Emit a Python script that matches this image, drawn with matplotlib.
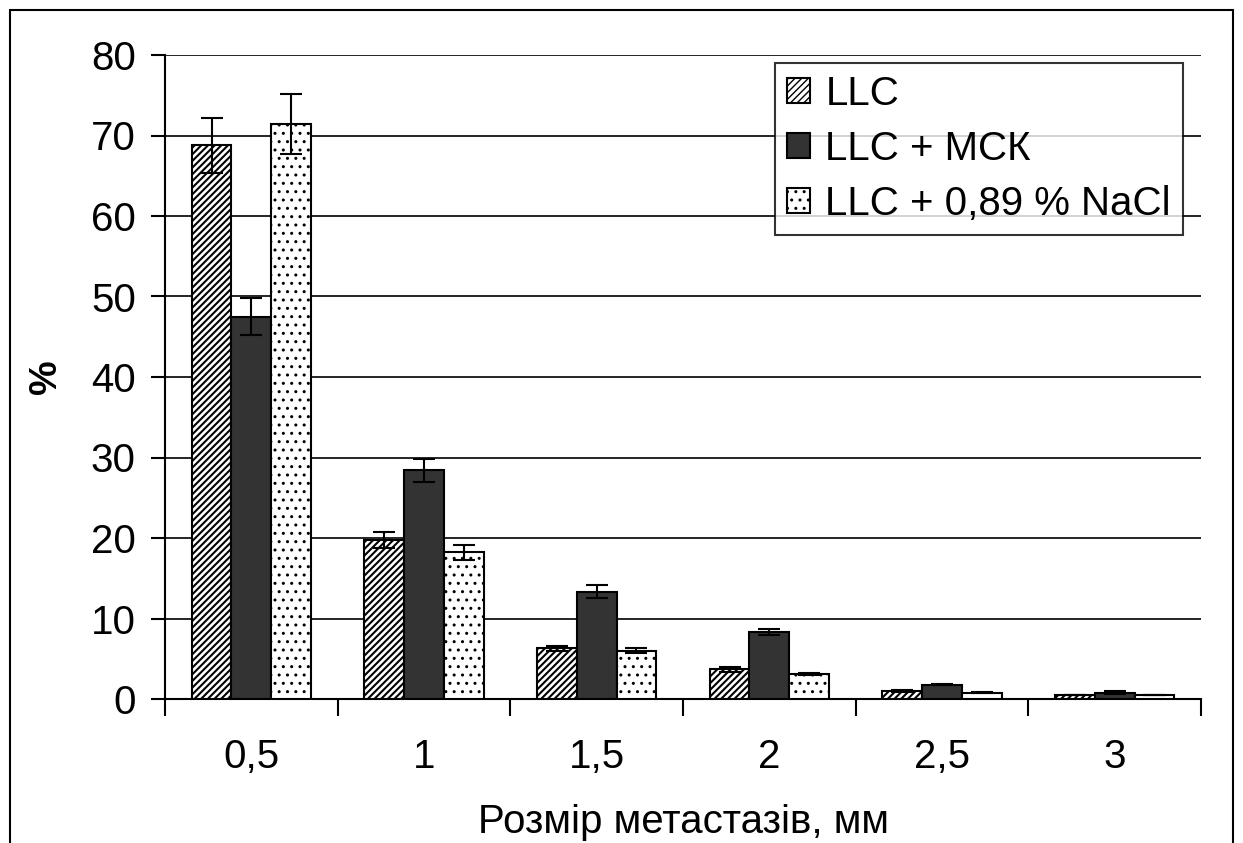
import matplotlib
matplotlib.use("Agg")
import matplotlib.pyplot as plt
import numpy as np
from matplotlib.patches import Rectangle

plt.rcParams['font.family'] = ['Liberation Sans', 'DejaVu Sans']

categories = ["0,5", "1", "1,5", "2", "2,5", "3"]
series_names = ["LLC", "LLC + МСК", "LLC + 0,89 % NaCl"]
llc = [68.8, 19.8, 6.3, 3.7, 1.0, 0.5]
llc_err = [3.4, 1.0, 0.3, 0.3, 0.1, 0.05]
msk = [47.5, 28.4, 13.3, 8.3, 1.8, 0.8]
msk_err = [2.3, 1.4, 0.8, 0.4, 0.1, 0.2]
nacl = [71.4, 18.2, 6.0, 3.1, 0.8, 0.5]
nacl_err = [3.7, 0.9, 0.3, 0.1, 0.1, 0.05]
yticks = [0, 10, 20, 30, 40, 50, 60, 70, 80]

FS = 29
fig = plt.figure(figsize=(12.43, 8.43), dpi=100)
ax = fig.add_axes([165/1243, 1-699/843, (1201-165)/1243, (699-55)/843])

x = np.arange(len(categories))
w = 0.23
styles = [
    dict(facecolor="white", hatch="/////"),
    dict(facecolor="#333333", hatch=None),
    dict(facecolor="white", hatch=".."),
]
hatch_lw = [1.5, 1.0, 1.0]
data = [(llc, llc_err), (msk, msk_err), (nacl, nacl_err)]
handles = []
for i, ((vals, errs), st) in enumerate(zip(data, styles)):
    plt.rcParams['hatch.linewidth'] = hatch_lw[i]
    b = ax.bar(x + (i-1)*w, vals, w, edgecolor="black", linewidth=1.5,
               label=series_names[i], zorder=3, **st)
    ax.errorbar(x + (i-1)*w, vals, yerr=errs, fmt="none", ecolor="black",
                elinewidth=1.5, capsize=8, capthick=1.5, zorder=4)
    handles.append(b)

ax.set_xlim(-0.5, len(categories)-0.5)
ax.set_ylim(0, 80)
ax.set_yticks(yticks)
ax.yaxis.grid(True, color="black", linewidth=1.2, zorder=0)
ax.set_axisbelow(True)
ax.set_xticks(x)
ax.set_xticklabels(categories)
ax.set_xticks(np.arange(-0.5, len(categories)), minor=True)
ax.tick_params(axis="x", which="major", length=0, pad=50, labelsize=FS)
ax.tick_params(axis="x", which="minor", length=12, width=1.5, direction="out")
ax.tick_params(axis="y", length=10, width=1.5, direction="out", labelsize=FS, pad=11)
for lbl in ax.get_xticklabels():
    lbl.set_verticalalignment("baseline")
for s in ["top", "right"]:
    ax.spines[s].set_visible(False)
for s in ["left", "bottom"]:
    ax.spines[s].set_linewidth(1.5)

ax.set_xlabel("Розмір метастазів, мм", fontsize=FS, va="baseline")
ax.xaxis.set_label_coords(0.5, -(833-699)/644)
ax.set_ylabel("%", fontsize=FS - 1, fontweight="bold")
ax.yaxis.set_label_coords(-(165-64)/1036, 0.5)

leg = ax.legend(handles=handles, labels=series_names, loc="upper right",
                bbox_to_anchor=(1183/1243, 1-63/843), bbox_transform=fig.transFigure,
                fontsize=FS, frameon=True, fancybox=False, edgecolor="black",
                handlelength=0.57, handleheight=0.57, handletextpad=0.38,
                borderpad=0.3, labelspacing=0.42, borderaxespad=0)
leg.get_frame().set_linewidth(1.5)

fig.patches.append(Rectangle((10/1243, -0.01), (1233-10)/1243, 1.01-10/843,
                             transform=fig.transFigure, fill=False,
                             edgecolor="black", linewidth=1.5))

fig.savefig("out.png", dpi=100)
